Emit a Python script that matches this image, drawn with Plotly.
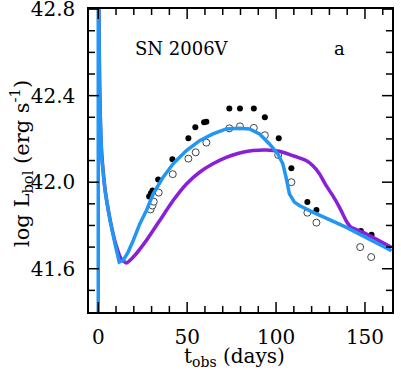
import plotly.graph_objects as go

# Model curves (t in days, log L)
blue_t = [0, 0, 0.6, 1.9, 3.8, 6.6, 9.4, 11.8, 14.0, 16.8, 19.7, 23.4, 27.1, 30.9, 36.5, 42.1, 49.6, 57.0, 64.5, 72.0, 79.5, 85.1, 90.7, 96.3, 101.0, 103.8, 105.6, 107.5, 110.3, 113.1, 120.6, 139.3, 165.0]
blue_L = [40.0, 43.5, 42.45, 42.115, 41.962, 41.823, 41.716, 41.631, 41.639, 41.677, 41.731, 41.808, 41.869, 41.946, 42.023, 42.085, 42.146, 42.192, 42.223, 42.246, 42.249, 42.246, 42.223, 42.177, 42.131, 42.085, 42.023, 41.946, 41.908, 41.892, 41.862, 41.792, 41.683]

purple_t = [0.2, 0.6, 1.5, 3.8, 6.6, 10.0, 13.0, 15.9, 19.7, 27.1, 34.6, 42.1, 49.6, 57.0, 64.5, 72.0, 79.5, 87.0, 94.4, 101.9, 109.4, 116.9, 120.6, 124.4, 128.1, 131.8, 135.6, 139.3, 142.1, 148.7, 165.0]
purple_L = [43.0, 42.6, 42.2, 41.97, 41.83, 41.71, 41.645, 41.627, 41.654, 41.731, 41.823, 41.915, 41.992, 42.046, 42.085, 42.115, 42.135, 42.146, 42.149, 42.143, 42.123, 42.100, 42.077, 42.039, 41.985, 41.939, 41.885, 41.823, 41.792, 41.769, 41.698]

# Observations
filled_t = [28.6, 29.6, 30.5, 33.7, 41.7, 50.7, 54.6, 59.5, 60.8, 73.7, 79.7, 87.5, 93.7, 101.5, 108.6, 117.6, 122.7, 147.7, 153.7]
filled_L = [41.934, 41.949, 41.962, 42.012, 42.106, 42.203, 42.254, 42.277, 42.279, 42.341, 42.341, 42.341, 42.300, 42.203, 42.065, 41.908, 41.871, 41.774, 41.757]

open_t = [29.4, 30.5, 31.2, 34.0, 41.9, 50.7, 54.8, 60.8, 73.7, 79.7, 87.5, 93.7, 101.2, 108.6, 117.6, 122.7, 147.3, 153.5]
open_L = [41.874, 41.892, 41.910, 41.952, 42.037, 42.109, 42.138, 42.183, 42.249, 42.258, 42.251, 42.217, 42.126, 42.000, 41.859, 41.813, 41.700, 41.654]

# Tick values
x_major = [0, 50, 100, 150]
x_minor = [10, 20, 30, 40, 60, 70, 80, 90, 110, 120, 130, 140, 160]
y_major = [41.6, 42.0, 42.4, 42.8]
y_minor = [41.5, 41.7, 41.8, 41.9, 42.1, 42.2, 42.3, 42.5, 42.6, 42.7]

FONT = "DejaVu Serif"

fig = go.Figure()
fig.add_trace(go.Scatter(x=filled_t, y=filled_L, mode="markers",
                         marker=dict(color="black", size=6), showlegend=False))
fig.add_trace(go.Scatter(x=open_t, y=open_L, mode="markers",
                         marker=dict(color="white", size=7, line=dict(color="#444", width=1)),
                         showlegend=False))
fig.add_trace(go.Scatter(x=purple_t, y=purple_L, mode="lines",
                         line=dict(color="#8A1FD8", width=3.5, shape="spline", smoothing=0.6),
                         showlegend=False))
fig.add_trace(go.Scatter(x=blue_t, y=blue_L, mode="lines",
                         line=dict(color="#2196F3", width=3.5),
                         showlegend=False))

fig.add_annotation(x=47, y=42.62, text="SN 2006V", showarrow=False,
                   font=dict(family=FONT, size=18, color="black"))
fig.add_annotation(x=135.5, y=42.62, text="a", showarrow=False,
                   font=dict(family=FONT, size=18, color="black"))

W, H = 401, 373
L_, R_, T_, B_ = 89, 9, 9, 61
pw, ph = W - L_ - R_, H - T_ - B_

def px_to_paper(px, py):
    return ((px - L_) / pw, (H - B_ - py) / ph)

tx, ty = px_to_paper(234, 357)
fig.add_annotation(xref="paper", yref="paper", x=tx, y=ty, text="t<sub>obs</sub> (days)",
                   showarrow=False, xanchor="center", yanchor="middle",
                   font=dict(family=FONT, size=20, color="black"))
yx, yy = px_to_paper(21, 164)
fig.add_annotation(xref="paper", yref="paper", x=yx, y=yy,
                   text="log L<sub>bol</sub> (erg s<sup>-1</sup>)", textangle=-90,
                   showarrow=False, xanchor="center", yanchor="middle",
                   font=dict(family=FONT, size=21, color="black"))

# inward tick marks on all four sides, placed through the axes' own scales
tick_line = dict(color="black", width=1.5)
for vals, ln in ((x_major, 10), (x_minor, 6)):
    for v in vals:
        fig.add_shape(type="line", xref="x", yref="paper", ysizemode="pixel", yanchor=0,
                      x0=v, x1=v, y0=0, y1=ln, line=tick_line, layer="above")
        fig.add_shape(type="line", xref="x", yref="paper", ysizemode="pixel", yanchor=1,
                      x0=v, x1=v, y0=0, y1=-ln, line=tick_line, layer="above")
for vals, ln in ((y_major, 10), (y_minor, 6)):
    for v in vals:
        fig.add_shape(type="line", yref="y", xref="paper", xsizemode="pixel", xanchor=0,
                      y0=v, y1=v, x0=0, x1=ln, line=tick_line, layer="above")
        fig.add_shape(type="line", yref="y", xref="paper", xsizemode="pixel", xanchor=1,
                      y0=v, y1=v, x0=0, x1=-ln, line=tick_line, layer="above")

axis_common = dict(showgrid=False, zeroline=False, showline=True, linecolor="black",
                   linewidth=1.5, mirror=True, ticks="", automargin=False,
                   ticklabeloverflow="allow",
                   tickfont=dict(family=FONT, size=20, color="black"))

fig.update_xaxes(range=[-5.2, 165.2], tickvals=x_major, ticktext=[str(v) for v in x_major],
                 ticklabelstandoff=6, **axis_common)
fig.update_yaxes(range=[41.4, 42.8005], tickvals=y_major, ticktext=[f"{v:.1f}" for v in y_major],
                 ticklabelstandoff=8, **axis_common)

fig.update_layout(width=W, height=H, margin=dict(l=L_, r=R_, t=T_, b=B_),
                  plot_bgcolor="white", paper_bgcolor="white")

fig.write_html("out.html", config={"displayModeBar": False},
               post_script="document.body.style.margin='0';")
